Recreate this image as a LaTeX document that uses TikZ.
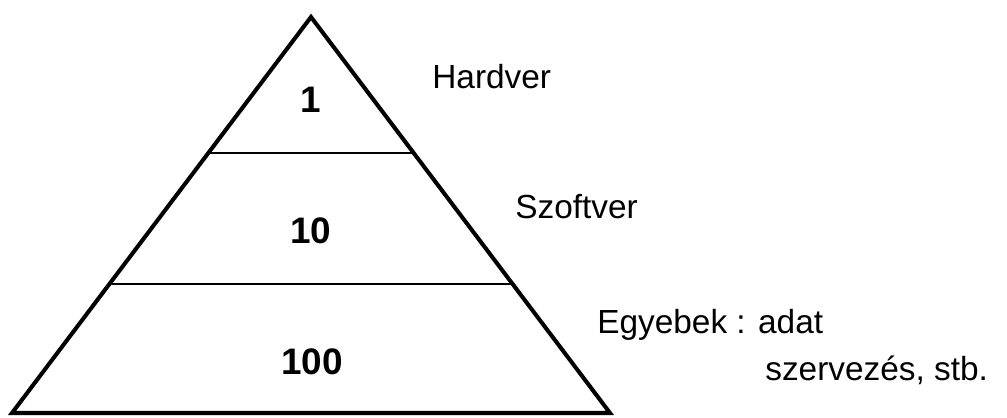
\documentclass[tikz,border=0pt]{standalone}
\usepackage{fontspec}
\setmainfont{Liberation Sans}
\usetikzlibrary{calc}
\tikzset{edge/.style={draw=black,line width=2.3pt,line join=miter}, tier/.style={draw=black,line width=1.1pt}, num/.style={font=\fontsize{21}{25}\selectfont\bfseries,inner sep=0pt}, lbl/.style={font=\fontsize{19}{23}\selectfont,anchor=base west,inner sep=0pt}}
\begin{document}
\begin{tikzpicture}[x=0.02cm,y=-0.02cm]
\useasboundingbox (0,0) rectangle (1007,417);
\coordinate (top) at (311,17);
\coordinate (bl) at (12,413);
\coordinate (br) at (610,413);
\coordinate (l1) at ($(top)!0.3426!(bl)$);
\coordinate (r1) at ($(top)!0.3426!(br)$);
\coordinate (l2) at ($(top)!0.675!(bl)$);
\coordinate (r2) at ($(top)!0.675!(br)$);
\draw[edge] (top)--(bl)--(br)--cycle;
\draw[tier] (l1)--(r1);
\draw[tier] (l2)--(r2);
\node[num] (n1) at (311,100) {1};
\node[num] (n10) at (311,231) {10};
\node[num] (n100) at (312,362) {100};
\node[lbl] (hw) at (432,88) {Hardver};
\node[lbl] (sw) at (515,218) {Szoftver};
\node[lbl] (misc) at (597,333) {Egyebek : adat};
\node[lbl] (misc2) at (765,380) {szervezés, stb.};
\end{tikzpicture}
\end{document}
